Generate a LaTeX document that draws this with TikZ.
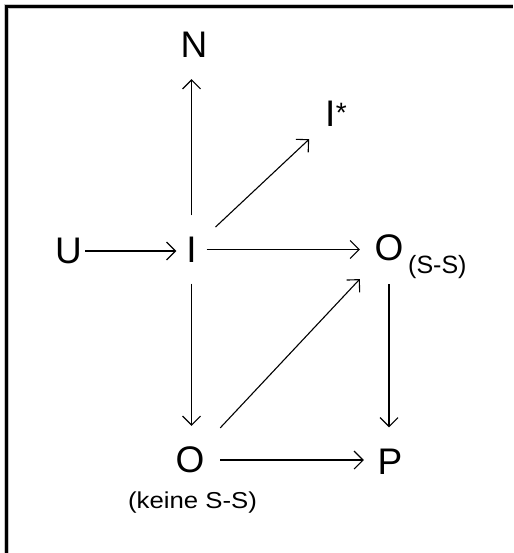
\documentclass[tikz,border=0pt]{standalone}
\usepackage{fontspec}
\setmainfont{Liberation Sans}
\newfontfamily\NoteFont[FakeStretch=1.12]{Liberation Sans}
\usetikzlibrary{arrows.meta}
\newcommand{\Star}{\hspace{0.5pt}\raisebox{4.6pt}{\fontsize{28}{28}\selectfont *}}

\begin{document}
\begin{tikzpicture}[
  x=1pt,y=-1pt,
  term/.style={font=\fontsize{37}{40}\selectfont,inner sep=0pt,minimum height=68pt,minimum width=50pt},
  sub/.style={font=\fontsize{25}{28}\selectfont,inner sep=0pt},
  note/.style={font=\NoteFont\fontsize{23}{26}\selectfont,inner sep=0pt},
  flow/.style={-{Straight Barb[length=9pt,width=18pt]},line width=1.1pt},
  frame/.style={line width=3pt,line join=miter}
]
\useasboundingbox (0,0) rectangle (513,553);
\draw[frame,gray!45,line width=5pt] (6.7,553) |- (513,6.8);
\draw[frame] (6.7,553) |- (513,6.8);
\node[term] (N) at (194,45) {N};
\node[term,minimum width=60pt,minimum height=50pt] (Istar) at (336,114) {I\Star};
\node[term,minimum width=33pt] (U) at (68.5,251) {U};
\node[term,minimum width=30pt] (I) at (191.5,249.5) {I};
\node[term,minimum width=58pt,minimum height=72pt] (Oss) at (389,248) {O};
\node[sub,anchor=base west] (Osslab) at (408,273.3) {(S-S)};
\node[term,minimum width=60pt] (O) at (190,460) {O};
\node[note,anchor=base] (Olab) at (192.5,508.3) {(keine S-S)};
\node[term,minimum width=52pt] (P) at (390,461.5) {P};
\draw[flow] (U) -- (U -| I.west);
\draw[flow] (I) -- (I |- N.south);
\draw[flow,shorten <=12pt] (I) -- (Istar);
\draw[flow] (I) -- (I -| Oss.west);
\draw[flow] (I) -- (I |- O.north);
\draw[flow] (O) -- (Oss);
\draw[flow] (Oss) -- (Oss |- P.north);
\draw[flow] (O) -- (O -| P.west);
\end{tikzpicture}
\end{document}
